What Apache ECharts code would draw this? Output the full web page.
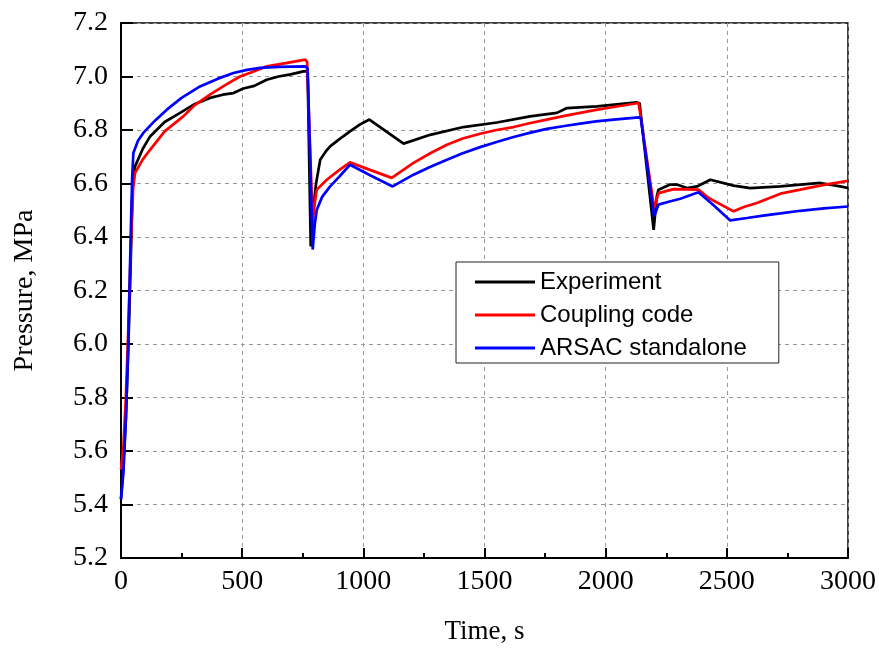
<!DOCTYPE html>
<html>
<head>
<meta charset="utf-8">
<script src="https://cdn.jsdelivr.net/npm/echarts@6/dist/echarts.min.js"></script>
<style>html,body{margin:0;padding:0;background:#fff;}#chart{width:879px;height:651px;}</style>
</head>
<body>
<div id="chart"></div>
<script>
// Tick labels
const xTicks = [0, 500, 1000, 1500, 2000, 2500, 3000];
const yTicks = [5.2, 5.4, 5.6, 5.8, 6.0, 6.2, 6.4, 6.6, 6.8, 7.0, 7.2];

// Experiment
const expTime = [0, 10, 20, 30, 40, 48, 58, 90, 120, 180, 244, 300, 367, 420, 464, 505, 550, 601, 650, 700, 753, 770, 783, 795, 805, 822, 845, 863, 900, 945, 985, 1025, 1166, 1276, 1413, 1551, 1688, 1799, 1840, 1964, 2129, 2140, 2198, 2211, 2218, 2266, 2294, 2335, 2377, 2432, 2528, 2597, 2721, 2886, 2968, 3000];
const expPressure = [5.42, 5.55, 5.72, 5.98, 6.30, 6.60, 6.664, 6.73, 6.776, 6.83, 6.864, 6.895, 6.92, 6.932, 6.938, 6.955, 6.965, 6.988, 7.0, 7.008, 7.019, 7.02, 6.365, 6.52, 6.60, 6.689, 6.72, 6.739, 6.765, 6.795, 6.82, 6.839, 6.749, 6.782, 6.811, 6.828, 6.851, 6.864, 6.882, 6.888, 6.903, 6.90, 6.427, 6.552, 6.577, 6.596, 6.596, 6.583, 6.589, 6.614, 6.592, 6.583, 6.589, 6.602, 6.589, 6.583];

// Coupling code
const cplTime = [0, 10, 20, 30, 40, 50, 58, 90, 120, 180, 257, 300, 367, 430, 491, 550, 601, 680, 760, 768, 791, 800, 808, 849, 900, 945, 1030, 1117, 1207, 1280, 1345, 1410, 1482, 1550, 1620, 1690, 1757, 1830, 1895, 1960, 2033, 2136, 2200, 2218, 2280, 2383, 2425, 2528, 2570, 2624, 2721, 2803, 2900, 3000];
const cplPressure = [5.53, 5.62, 5.80, 6.05, 6.35, 6.58, 6.64, 6.69, 6.726, 6.795, 6.851, 6.89, 6.932, 6.968, 7.0, 7.02, 7.038, 7.05, 7.063, 7.055, 6.452, 6.53, 6.577, 6.614, 6.65, 6.679, 6.65, 6.621, 6.677, 6.715, 6.745, 6.768, 6.786, 6.80, 6.811, 6.826, 6.839, 6.853, 6.864, 6.875, 6.886, 6.901, 6.508, 6.564, 6.579, 6.577, 6.546, 6.496, 6.512, 6.527, 6.562, 6.577, 6.595, 6.61];

// ARSAC standalone
const arsTime = [0, 10, 20, 30, 40, 46, 51, 70, 92, 140, 189, 250, 326, 400, 464, 520, 574, 650, 760, 770, 791, 800, 808, 830, 863, 900, 945, 1030, 1121, 1207, 1275, 1345, 1410, 1482, 1550, 1620, 1690, 1757, 1830, 1895, 1960, 2033, 2136, 2145, 2200, 2218, 2260, 2308, 2383, 2450, 2514, 2583, 2650, 2721, 2803, 2900, 3000];
const arsPressure = [5.42, 5.52, 5.72, 6.0, 6.40, 6.62, 6.714, 6.76, 6.789, 6.835, 6.876, 6.92, 6.963, 6.992, 7.013, 7.025, 7.032, 7.036, 7.038, 7.03, 6.353, 6.45, 6.502, 6.55, 6.589, 6.625, 6.670, 6.63, 6.589, 6.633, 6.662, 6.689, 6.713, 6.736, 6.755, 6.774, 6.79, 6.804, 6.815, 6.824, 6.832, 6.839, 6.847, 6.845, 6.477, 6.521, 6.532, 6.543, 6.567, 6.515, 6.462, 6.471, 6.48, 6.488, 6.498, 6.507, 6.514];

const zip = (a, b) => a.map((t, i) => [t, b[i]]);

const chart = echarts.init(document.getElementById('chart'), null, {renderer: 'canvas'});
const serif = '"Liberation Serif", "Times New Roman", serif';
const sans = '"Liberation Sans", Arial, sans-serif';

chart.setOption({
  animation: false,
  backgroundColor: '#fff',
  grid: {left: 121, right: 30, top: 23, bottom: 93, show: true, borderColor: '#000', borderWidth: 1.5, containLabel: false},
  legend: {
    orient: 'vertical',
    left: 456, top: 262,
    padding: [8, 32, 3, 19],
    icon: 'rect',
    itemWidth: 60, itemHeight: 3, itemGap: 9,
    borderColor: '#222', borderWidth: 1,
    backgroundColor: '#fff',
    textStyle: {fontFamily: sans, fontSize: 24, color: '#000'},
    data: ['Experiment', 'Coupling code', 'ARSAC standalone']
  },
  xAxis: {
    type: 'value', min: xTicks[0], max: xTicks[xTicks.length - 1], interval: 500,
    name: 'Time, s', nameLocation: 'middle', nameGap: 60,
    nameTextStyle: {fontFamily: serif, fontSize: 27, color: '#000'},
    axisLine: {show: true, lineStyle: {color: '#000', width: 2}},
    axisTick: {show: true, inside: true, length: 10, lineStyle: {color: '#000', width: 2}},
    minorTick: {show: true, splitNumber: 2, length: 5, lineStyle: {color: '#000', width: 2}},
    axisLabel: {fontFamily: serif, fontSize: 28, color: '#000', margin: 10, formatter: v => String(v)},
    splitLine: {show: true, lineStyle: {color: '#999', width: 1, type: [4, 4]}}
  },
  yAxis: {
    type: 'value', min: yTicks[0], max: yTicks[yTicks.length - 1], interval: 0.2,
    name: 'Pressure, MPa', nameLocation: 'middle', nameGap: 82, nameRotate: 90,
    nameTextStyle: {fontFamily: serif, fontSize: 28, color: '#000'},
    axisLine: {show: true, lineStyle: {color: '#000', width: 2}},
    axisTick: {show: true, inside: true, length: 12, lineStyle: {color: '#000', width: 2}},
    axisLabel: {fontFamily: serif, fontSize: 28, color: '#000', margin: 13, formatter: v => v.toFixed(1)},
    splitLine: {show: true, lineStyle: {color: '#999', width: 1, type: [4, 4]}}
  },
  series: [
    {name: 'Experiment', type: 'line', data: zip(expTime, expPressure), symbol: 'none', lineStyle: {color: '#000', width: 2.7}, itemStyle: {color: '#000'}},
    {name: 'Coupling code', type: 'line', data: zip(cplTime, cplPressure), symbol: 'none', lineStyle: {color: '#ff0000', width: 2.7}, itemStyle: {color: '#ff0000'}},
    {name: 'ARSAC standalone', type: 'line', data: zip(arsTime, arsPressure), symbol: 'none', lineStyle: {color: '#0000ff', width: 2.7}, itemStyle: {color: '#0000ff'}}
  ]
});
</script>
</body>
</html>
